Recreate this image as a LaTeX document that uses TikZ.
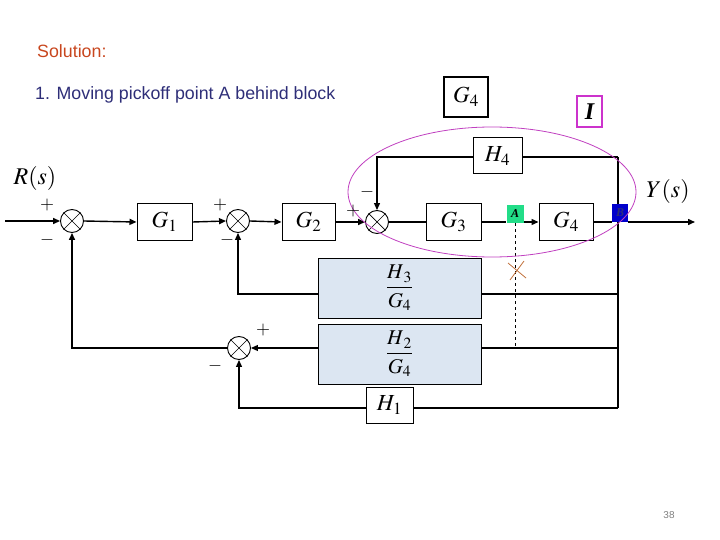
\documentclass[tikz,border=0pt]{standalone}
\usepackage{mathptmx}
\usepackage[no-math]{fontspec}
\setmainfont{Liberation Serif}
\setsansfont{Liberation Sans}
\usetikzlibrary{arrows.meta}
\definecolor{solred}{HTML}{C8461E}
\definecolor{navy}{HTML}{2E2E78}
\definecolor{ellcol}{HTML}{C040C0}
\definecolor{ibox}{HTML}{CC33CC}
\definecolor{boxfill}{HTML}{DCE6F2}
\definecolor{markgreen}{HTML}{22DD88}
\definecolor{markblue}{HTML}{0000CC}
\definecolor{crosscol}{HTML}{C0703A}
\begin{document}
\begin{tikzpicture}[x=1pt,y=-1pt,
  blk/.style={draw, line width=1pt, inner sep=0pt, minimum height=36pt, font=\fontsize{23}{23}\selectfont},
  fracblk/.style={draw, line width=1pt, fill=boxfill, inner sep=0pt, minimum width=163pt, minimum height=60pt, font=\fontsize{21}{21}\selectfont},
  sumj/.style={draw, circle, minimum size=23pt, inner sep=0pt, line width=0.9pt},
  arr/.style={-{Triangle[length=7pt,width=6pt]}, line width=1.4pt},
  thinarr/.style={-{Triangle[length=7pt,width=6pt]}, line width=1.1pt},
  ln/.style={line width=1.1pt},
  sgn/.style={font=\fontsize{18}{18}\selectfont, inner sep=0pt},
  ptmark/.style={inner sep=0pt, minimum width=17pt, minimum height=18pt, font=\fontsize{12}{12}\selectfont\bfseries\itshape}
]
\useasboundingbox (0,0) rectangle (720,540);

% header texts
\node[anchor=base west, inner sep=0pt, text=solred, font=\sffamily\fontsize{17.8}{18}\selectfont] (sol) at (37,58) {Solution:};
\node[anchor=base west, inner sep=0pt, text=navy, font=\sffamily\fontsize{17.8}{18}\selectfont] (step1) at (35,100) {1. Moving pickoff point A behind block};

% blocks
\node[blk, minimum width=44pt, minimum height=40pt, line width=2pt] (g4top) at (466,97) {$G_4$};
\node[draw=ibox, line width=2pt, minimum width=25pt, minimum height=31pt, inner sep=0pt, font=\fontsize{24}{24}\selectfont\bfseries\itshape] (ib) at (589.5,111.5) {I};

\node[sumj] (s1) at (72,221) {};
\node[blk, minimum width=55pt] (g1) at (164.5,222) {$G_1$};
\node[sumj] (s2) at (238,221) {};
\node[blk, minimum width=53pt] (g2) at (308.5,222) {$G_2$};
\node[sumj] (s3) at (377,222) {};
\node[blk, minimum width=55pt] (g3) at (453.5,222) {$G_3$};
\node[ptmark, fill=markgreen] (ma) at (515,214) {A};
\node[blk, minimum width=54pt] (g4) at (566,222) {$G_4$};
\node[ptmark, fill=markblue, minimum width=16pt, text=navy] (mb) at (620,213) {B};
\node[blk, minimum width=49pt] (h4) at (497.5,156) {$H_4$};
\node[fracblk] (h3g4) at (399.5,288) {$\displaystyle\frac{H_{\,3}}{G_4}$};
\node[fracblk] (h2g4) at (399.5,354) {$\displaystyle\frac{H_{\,2}}{G_4}$};
\node[blk, minimum width=47pt, fill=white] (h1) at (389.5,405) {$H_1$};
\node[sumj] (s4) at (239,348) {};

% crosses in summing junctions
\foreach \s in {s1,s2,s3,s4}{
  \draw[line width=0.7pt] (\s.north west) -- (\s.south east);
  \draw[line width=0.7pt] (\s.north east) -- (\s.south west);
}

% coordinates
\coordinate (in) at (5,221);
\coordinate (out) at (695,222);
\coordinate (rt) at (618,157);
\coordinate (lt) at (377,157);
\coordinate (r3) at (618,294);
\coordinate (r2) at (618,348);
\coordinate (r1) at (618,408);
\coordinate (l1) at (72,348);
\coordinate (dend) at (515,347);

% forward path
\draw[arr] (in) -- (s1.west);
\draw[arr] (s1.east) -- (g1.west);
\draw[arr] (g1.east) -- (s2.west);
\draw[arr] (s2.east) -- (g2.west);
\draw[arr] (g2.east) -- (s3.west);
\draw[ln] (s3.east) -- (g3.west);
\draw[line width=1.4pt] (g3.east) -- (ma.west |- g3.east);
\draw[arr] (ma.east |- g4.west) -- (g4.west);
\draw[line width=1.4pt] (g4.east) -- (mb.west |- g4.east);
\draw[arr] (mb.east |- out) -- (out);

% H4 loop
\draw[ln] (rt) -- (h4.east |- rt);
\draw[thinarr] (h4.west |- lt) -- (lt) -- (s3.north);
\draw[ln] (rt) -- (mb.north -| rt);
\draw[ln] (mb.south -| rt) -- (r1);

% H3/G4 loop
\draw[ln] (r3) -- (h3g4.east |- r3);
\draw[thinarr] (h3g4.west |- r3) -- (s2 |- r3) -- (s2.south);

% H2/G4 loop
\draw[ln] (r2) -- (h2g4.east |- r2);
\draw[thinarr] (h2g4.west |- r2) -- (s4.east);

% H1 loop
\draw[ln] (r1) -- (h1.east |- r1);
\draw[thinarr] (h1.west |- r1) -- (s4 |- r1) -- (s4.south);

% from s4 to s1
\draw[arr] (s4.west) -- (l1) -- (s1.south);

% dashed pickoff
\draw[dashed, line width=0.9pt] (ma.south) -- (dend);
\draw[crosscol, line width=0.8pt] (508,263) -- (526,278);
\draw[crosscol, line width=0.8pt] (524,261) -- (510,280);

% ellipse
\draw[ellcol, line width=0.8pt] (492,192) ellipse [x radius=144, y radius=65];

% signs
\node[sgn] (p1) at (47,205) {$+$};
\node[sgn] (m1) at (47,240) {$-$};
\node[sgn] (p2) at (220,205) {$+$};
\node[sgn] (m2) at (227,240) {$-$};
\node[sgn] (p3) at (353,211) {$+$};
\node[sgn] (m3) at (367,192) {$-$};
\node[sgn] (p4) at (263,330) {$+$};
\node[sgn] (m4) at (215,366) {$-$};

% signal labels
\node[font=\fontsize{24}{24}\selectfont, inner sep=0pt] (rs) at (35,179) {$R(s)$};
\node[font=\fontsize{24}{24}\selectfont, inner sep=0pt] (ys) at (668,191) {$Y(s)$};

% page number
\node[font=\sffamily\fontsize{10}{10}\selectfont, text=gray, inner sep=0pt] (pg) at (669,515) {38};
\end{tikzpicture}
\end{document}
